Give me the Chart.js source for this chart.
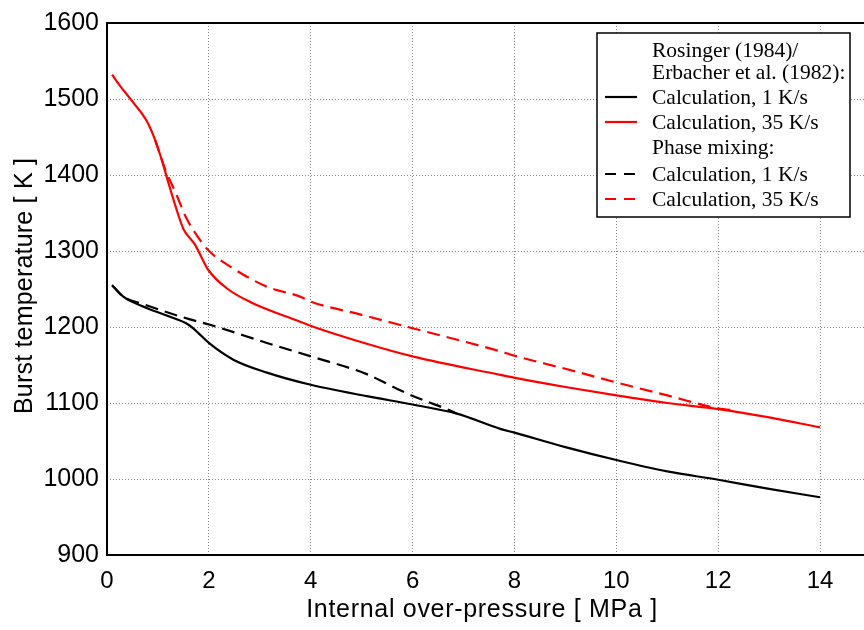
<!DOCTYPE html>
<html><head><meta charset="utf-8">
<script src="https://cdn.jsdelivr.net/npm/chart.js@4"></script>
<style>
html,body{margin:0;padding:0;overflow:hidden;background:#fff;width:864px;height:630px}
#wrap{position:absolute;left:0;top:0;width:880px;height:630px}
</style>
</head><body><div id="wrap"><canvas id="c" width="880" height="630"></canvas></div>
<script>
// ---- tick labels ----
const xTickLabels = [0, 2, 4, 6, 8, 10, 12, 14];
const yTickLabels = [900, 1000, 1100, 1200, 1300, 1400, 1500, 1600];
const xTitle = 'Internal over-pressure [ MPa ]';
const yTitle = 'Burst temperature [ K ]';
const legendHeaderA = ['Rosinger (1984)/', 'Erbacher et al. (1982):'];
const legendHeaderB = ['Phase mixing:'];
const seriesLabels = ['Calculation, 1 K/s', 'Calculation, 35 K/s', 'Calculation, 1 K/s', 'Calculation, 35 K/s'];

// ---- Rosinger / Erbacher, 1 K/s (black solid) ----
const rosSlowP = [0.10, 0.32, 0.71, 1.17, 1.60, 1.78, 2.00, 2.48, 3.14, 4.00, 5.10, 6.00, 6.87, 7.72, 8.00, 9.00, 10.0, 11.0, 12.0, 13.0, 14.0];
const rosSlowT = [1255, 1240, 1227, 1215, 1203, 1193, 1179, 1157, 1140, 1124, 1109, 1098, 1086, 1066, 1061, 1042, 1025, 1010, 999, 987, 976];

// ---- Rosinger / Erbacher, 35 K/s (red solid) ----
const rosFastP = [0.10, 0.26, 0.52, 0.78, 0.94, 1.07, 1.20, 1.34, 1.50, 1.73, 1.83, 1.99, 2.35, 2.81, 3.79, 4.02, 5.00, 6.02, 7.72, 8.01, 9.00, 10.0, 11.0, 12.0, 13.0, 14.0];
const rosFastT = [1532, 1517, 1495, 1471, 1447, 1421, 1391, 1360, 1329, 1308, 1295, 1275, 1251, 1233, 1207, 1201, 1180, 1161, 1137, 1133, 1121, 1110, 1100, 1092, 1081, 1068];

// ---- Phase mixing, 1 K/s (black dashed) ----
const mixSlowP = [0.10, 0.32, 0.71, 1.63, 2.02, 3.14, 4.02, 5.10, 5.81, 6.20, 6.67, 6.87];
const mixSlowT = [1255, 1240, 1230, 1210, 1203, 1179, 1161, 1138, 1115, 1104, 1092, 1086];

// ---- Phase mixing, 35 K/s (red dashed) ----
const mixFastP = [0.94, 1.07, 1.14, 1.37, 1.56, 1.76, 1.99, 2.48, 3.14, 3.79, 4.02, 5.00, 6.02, 7.72, 8.01, 9.00, 10.0, 11.0, 12.0, 12.36];
const mixFastT = [1447, 1421, 1408, 1373, 1343, 1321, 1301, 1277, 1253, 1240, 1233, 1216, 1198, 1168, 1162, 1145, 1127, 1110, 1093, 1090];

const pts = (P, T) => P.map((p, i) => ({ x: p, y: T[i] }));
const DASH = [13, 7];

const datasets = [
  { label: seriesLabels[0], data: pts(rosSlowP, rosSlowT), borderColor: '#000', borderDash: [] },
  { label: seriesLabels[1], data: pts(rosFastP, rosFastT), borderColor: '#ff0000', borderDash: [] },
  { label: seriesLabels[2], data: pts(mixSlowP, mixSlowT), borderColor: '#000', borderDash: DASH },
  { label: seriesLabels[3], data: pts(mixFastP, mixFastT), borderColor: '#ff0000', borderDash: DASH }
].map(d => Object.assign(d, { borderWidth: 2.2, pointRadius: 0, fill: false, cubicInterpolationMode: 'monotone' }));

const SANS = "'Liberation Sans', Arial, sans-serif";
const SERIF = "'Liberation Serif', 'Times New Roman', serif";

const decor = {
  id: 'decor',
  afterDatasetsDraw(chart) {
    const ctx = chart.ctx, a = chart.chartArea;
    ctx.save();
    // frame
    ctx.strokeStyle = '#000'; ctx.lineWidth = 2; ctx.setLineDash([]);
    ctx.beginPath();
    ctx.moveTo(a.right + 5, a.top); ctx.lineTo(a.left, a.top); ctx.lineTo(a.left, a.bottom); ctx.lineTo(a.right + 5, a.bottom);
    ctx.stroke();
    // axis titles
    ctx.fillStyle = '#000';
    ctx.font = '25px ' + SANS;
    try { ctx.letterSpacing = '0.7px'; } catch (e) {}
    ctx.textAlign = 'center'; ctx.textBaseline = 'alphabetic';
    ctx.fillText(xTitle, 482, 617);
    try { ctx.letterSpacing = '0.2px'; } catch (e) {}
    ctx.translate(32, 286); ctx.rotate(-Math.PI / 2);
    ctx.fillText(yTitle, 0, 0);
    ctx.restore();

    // legend
    ctx.save();
    const bx = 597, by = 33, bw = 253, bh = 184;
    ctx.fillStyle = '#fff'; ctx.fillRect(bx, by, bw, bh);
    ctx.strokeStyle = '#000'; ctx.lineWidth = 1.5; ctx.strokeRect(bx, by, bw, bh);
    ctx.font = '21.5px ' + SERIF; ctx.fillStyle = '#000';
    ctx.textAlign = 'left'; ctx.textBaseline = 'alphabetic';
    const tx = 652;
    const rows = [
      { text: legendHeaderA[0], y: 50 },
      { text: legendHeaderA[1], y: 72 },
      { text: seriesLabels[0], y: 97, ds: 0 },
      { text: seriesLabels[1], y: 122, ds: 1 },
      { text: legendHeaderB[0], y: 147 },
      { text: seriesLabels[2], y: 174, ds: 2 },
      { text: seriesLabels[3], y: 199, ds: 3 }
    ];
    rows.forEach(r => {
      ctx.fillText(r.text, tx, r.y + 7);
      if (r.ds !== undefined) {
        const d = chart.data.datasets[r.ds];
        ctx.strokeStyle = d.borderColor; ctx.lineWidth = 2.2;
        ctx.setLineDash(d.borderDash.length ? [11, 8] : []);
        ctx.beginPath(); ctx.moveTo(605, r.y); ctx.lineTo(637, r.y); ctx.stroke();
      }
    });
    ctx.restore();
  }
};

new Chart(document.getElementById('c'), {
  type: 'line',
  data: { datasets },
  options: {
    responsive: false, animation: false, devicePixelRatio: 1,
    layout: { padding: { left: 0, right: 9, top: 19, bottom: 0 } },
    plugins: { legend: { display: false }, tooltip: { enabled: false } },
    scales: {
      x: {
        type: 'linear', min: 0, max: 15,
        afterBuildTicks: s => { s.ticks = xTickLabels.map(v => ({ value: v })); },
        afterFit: s => { s.height = 75; },
        grid: { color: '#8a8a8a', lineWidth: 1, drawTicks: false },
        border: { display: false, dash: [1, 2] },
        ticks: { color: '#000', font: { family: SANS, size: 24 }, padding: 12, maxRotation: 0,
                 callback: v => xTickLabels.includes(v) ? String(v) : '' }
      },
      y: {
        type: 'linear', min: 900, max: 1600,
        afterBuildTicks: s => { s.ticks = yTickLabels.map(v => ({ value: v })); },
        afterFit: s => { s.width = 107; },
        grid: { color: '#8a8a8a', lineWidth: 1, drawTicks: false },
        border: { display: false, dash: [1, 2] },
        ticks: { color: '#000', font: { family: SANS, size: 25 }, padding: 8,
                 callback: v => String(v) }
      }
    }
  },
  plugins: [decor]
});
</script>
</body></html>
